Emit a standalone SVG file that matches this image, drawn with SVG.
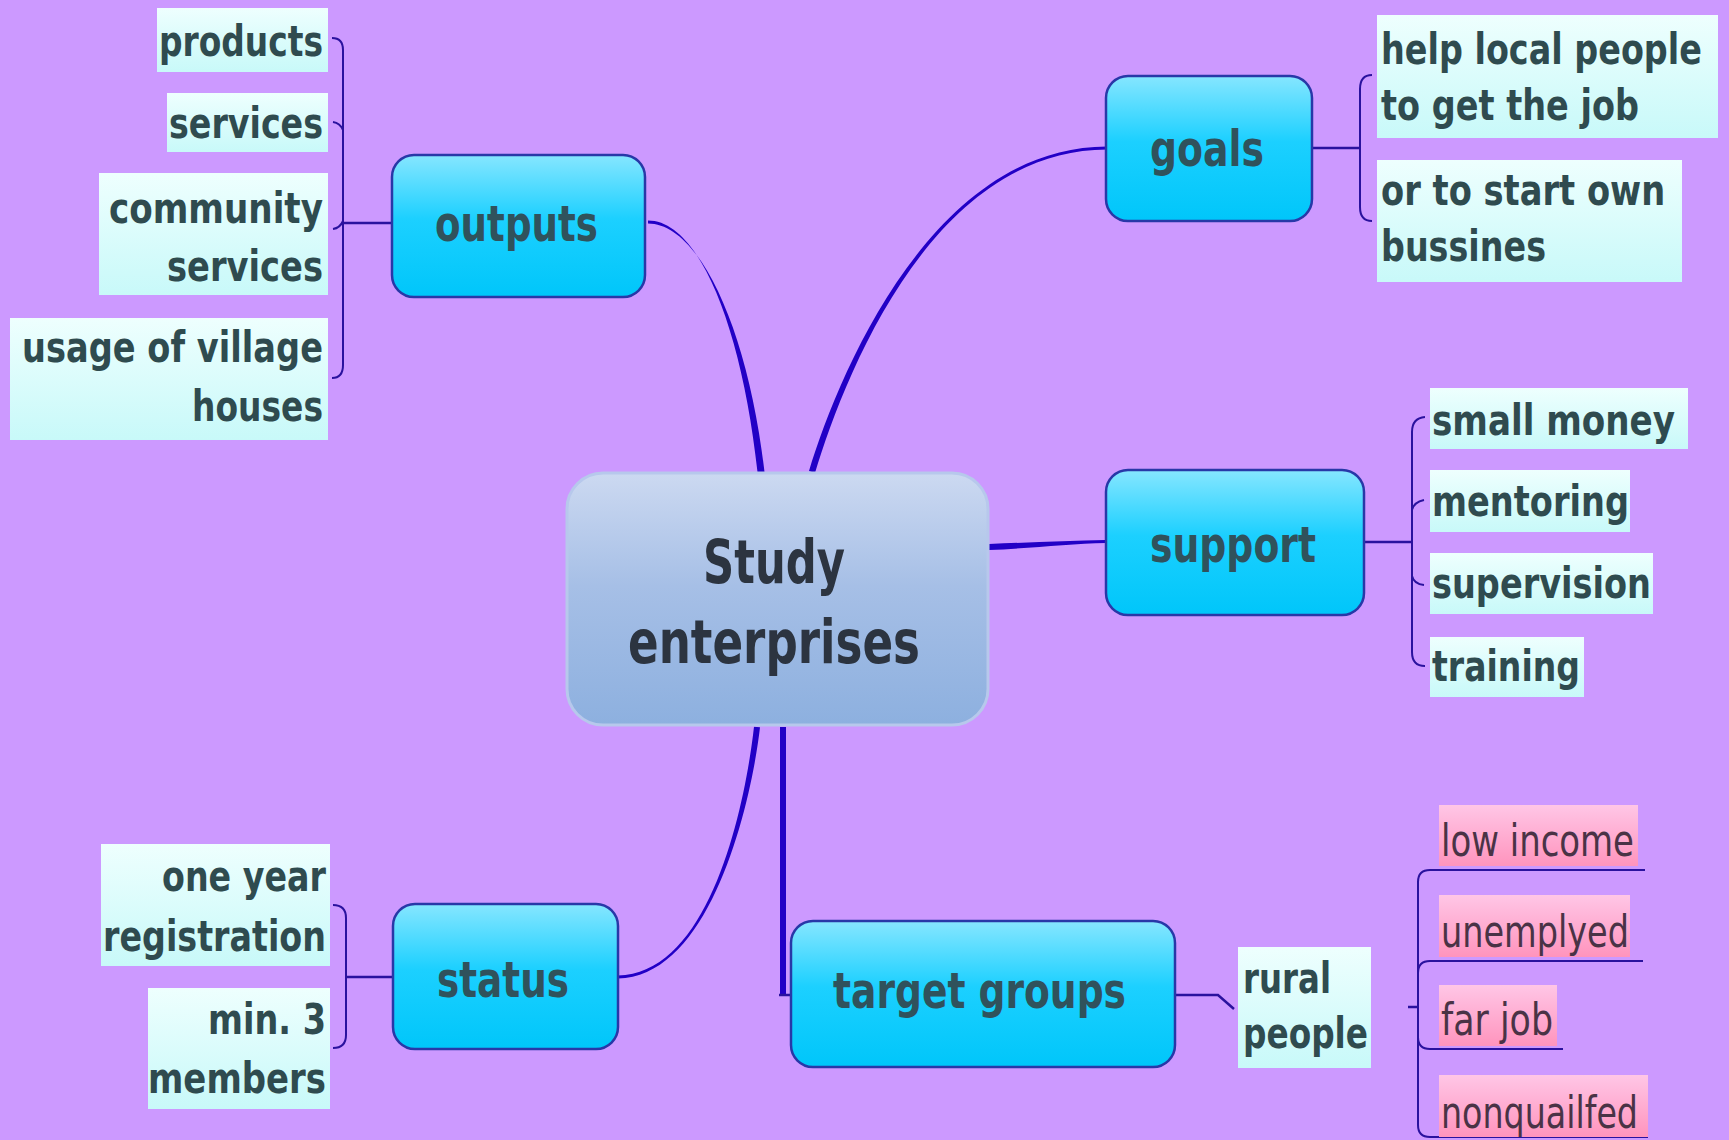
<svg xmlns="http://www.w3.org/2000/svg" width="1729" height="1140" viewBox="0 0 1729 1140">
<defs>
<linearGradient id="gCenter" x1="0" y1="0" x2="0" y2="1">
<stop offset="0" stop-color="#ccd9f1"/><stop offset="0.45" stop-color="#a6bfe6"/><stop offset="1" stop-color="#8db0df"/>
</linearGradient>
<linearGradient id="gNode" x1="0" y1="0" x2="0" y2="1">
<stop offset="0" stop-color="#86e6ff"/><stop offset="0.45" stop-color="#1cd0ff"/><stop offset="1" stop-color="#00c6fa"/>
</linearGradient>
<linearGradient id="gItem" x1="0" y1="0" x2="0" y2="1">
<stop offset="0" stop-color="#eefffe"/><stop offset="1" stop-color="#c8f9f9"/>
</linearGradient>
<linearGradient id="gPink" x1="0" y1="0" x2="0" y2="1">
<stop offset="0" stop-color="#ffc6e6"/><stop offset="1" stop-color="#ff94bd"/>
</linearGradient>
</defs>
<style>
.center{fill:url(#gCenter);stroke:#b7c8ec;stroke-width:3}
.node{fill:url(#gNode);stroke:#2838a8;stroke-width:2.5}
.item{fill:url(#gItem)}
.pink{fill:url(#gPink)}
.ct{font-family:"DejaVu Sans","Verdana",sans-serif;font-weight:bold;font-size:60px;fill:#2c3440}
.nt{font-family:"DejaVu Sans","Verdana",sans-serif;font-weight:bold;font-size:50px;fill:#30525c}
.it{font-family:"DejaVu Sans","Verdana",sans-serif;font-weight:bold;font-size:43px;fill:#2f4b4f}
.pt{font-family:"DejaVu Sans","Verdana",sans-serif;font-size:44px;fill:#4a3346}
.main{fill:#2200c6}
.thin{fill:none;stroke:#2a129e;stroke-width:2}
.hub{fill:none;stroke:#2a129e;stroke-width:2.5}
.thick{fill:none;stroke:#2200c6;stroke-width:6}
</style>
<rect width="1729" height="1140" fill="#cc99ff"/>

<g id="connectors">
<path class="main" d="M648,223.5 C700,223.5 748,330 764.5,472 L757.5,472 C742,330 700,220.5 648,220.5 Z"/>
<path class="main" d="M815,473 C843,381 930,150 1107,149.5 L1107,146.5 C930,147 837,379 809,471 Z"/>
<path class="main" d="M989,550 C1030,548.5 1070,543.5 1106,543 L1106,540 C1070,540.5 1030,542.5 989,544 Z"/>
<path class="main" d="M760,727.3 C753,790.3 715,976.5 618,978.5 L618,975.5 C715,973.5 747,789.7 754,726.7 Z"/>
<path class="thick" d="M783,727 L783,995"/>
<path class="hub" d="M779,995 L792,995"/>
<path class="hub" d="M343,223 L392,223"/>
<path class="thin" d="M332,38 Q343,38 343,50 L343,365 Q343,378 332,378 M343,130 Q340,123 333,122 M343,221 Q340,228 333,229"/>
<path class="hub" d="M1312,148 L1360,148"/>
<path class="thin" d="M1372,75 Q1360,75 1360,89 L1360,207 Q1360,221 1372,221"/>
<path class="hub" d="M1364,542 L1412,542"/>
<path class="thin" d="M1425,417 Q1412,418 1412,432 L1412,652 Q1412,666 1425,666 M1412,510 Q1414,502 1424,500 M1412,576 Q1414,584 1424,585"/>
<path class="hub" d="M346,977 L393,977"/>
<path class="thin" d="M333,905 Q346,905 346,918 L346,1035 Q346,1048 333,1048"/>
<path class="hub" d="M1175,995 L1218,995 L1234,1009"/>
<path class="thin" d="M1430,870 L1645,870 M1430,870 Q1418,870 1418,882 L1418,1125 Q1418,1137 1430,1137 L1648,1137 M1418,973 Q1418,961 1430,961 L1643,961 M1418,1037 Q1418,1049 1430,1049 L1563,1049"/>
<path class="hub" d="M1408,1007 L1418,1007" stroke-width="3.5"/>
</g>

<g id="center">
<rect class="center" x="567" y="473" width="421" height="252" rx="36"/>
<text class="ct" x="703" y="583" textLength="142" lengthAdjust="spacingAndGlyphs">Study</text>
<text class="ct" x="628" y="663" textLength="292" lengthAdjust="spacingAndGlyphs">enterprises</text>
</g>

<g id="outputs">
<rect class="node" x="392" y="155" width="253" height="142" rx="22"/>
<text class="nt" x="435" y="241" textLength="163" lengthAdjust="spacingAndGlyphs">outputs</text>
</g>
<g id="outputs-products">
<rect class="item" x="157" y="8" width="171" height="64"/>
<text class="it" x="159" y="56" textLength="164" lengthAdjust="spacingAndGlyphs">products</text>
</g>
<g id="outputs-services">
<rect class="item" x="167" y="93" width="161" height="59"/>
<text class="it" x="169" y="138" textLength="154" lengthAdjust="spacingAndGlyphs">services</text>
</g>
<g id="outputs-community">
<rect class="item" x="99" y="173" width="229" height="122"/>
<text class="it" x="109" y="223" textLength="214" lengthAdjust="spacingAndGlyphs">community</text>
<text class="it" x="167" y="281" textLength="156" lengthAdjust="spacingAndGlyphs">services</text>
</g>
<g id="outputs-usage">
<rect class="item" x="10" y="318" width="318" height="122"/>
<text class="it" x="22" y="362" textLength="301" lengthAdjust="spacingAndGlyphs">usage of village</text>
<text class="it" x="192" y="421" textLength="131" lengthAdjust="spacingAndGlyphs">houses</text>
</g>

<g id="goals">
<rect class="node" x="1106" y="76" width="206" height="145" rx="22"/>
<text class="nt" x="1150" y="166" textLength="114" lengthAdjust="spacingAndGlyphs">goals</text>
</g>
<g id="goals-help">
<rect class="item" x="1377" y="15" width="341" height="123"/>
<text class="it" transform="translate(1381,64) scale(0.777,1)" textLength="413" lengthAdjust="spacingAndGlyphs">help local people</text>
<text class="it" x="1381" y="120" textLength="258" lengthAdjust="spacingAndGlyphs">to get the job</text>
</g>
<g id="goals-start">
<rect class="item" x="1377" y="160" width="305" height="122"/>
<text class="it" transform="translate(1381,205) scale(0.783,1)" textLength="363" lengthAdjust="spacingAndGlyphs">or to start own</text>
<text class="it" x="1381" y="261" textLength="165" lengthAdjust="spacingAndGlyphs">bussines</text>
</g>

<g id="support">
<rect class="node" x="1106" y="470" width="258" height="145" rx="22"/>
<text class="nt" x="1150" y="562" textLength="166" lengthAdjust="spacingAndGlyphs">support</text>
</g>
<g id="support-money">
<rect class="item" x="1430" y="388" width="258" height="61"/>
<text class="it" transform="translate(1432,435) scale(0.794,1)" textLength="306" lengthAdjust="spacingAndGlyphs">small money</text>
</g>
<g id="support-mentoring">
<rect class="item" x="1430" y="470" width="200" height="62"/>
<text class="it" x="1432" y="516" textLength="197" lengthAdjust="spacingAndGlyphs">mentoring</text>
</g>
<g id="support-supervision">
<rect class="item" x="1430" y="553" width="223" height="61"/>
<text class="it" x="1432" y="598" textLength="219" lengthAdjust="spacingAndGlyphs">supervision</text>
</g>
<g id="support-training">
<rect class="item" x="1430" y="637" width="154" height="60"/>
<text class="it" x="1432" y="681" textLength="148" lengthAdjust="spacingAndGlyphs">training</text>
</g>

<g id="status">
<rect class="node" x="393" y="904" width="225" height="145" rx="22"/>
<text class="nt" x="437" y="997" textLength="132" lengthAdjust="spacingAndGlyphs">status</text>
</g>
<g id="status-registration">
<rect class="item" x="101" y="844" width="229" height="122"/>
<text class="it" x="162" y="891" textLength="164" lengthAdjust="spacingAndGlyphs">one year</text>
<text class="it" x="103" y="951" textLength="223" lengthAdjust="spacingAndGlyphs">registration</text>
</g>
<g id="status-members">
<rect class="item" x="148" y="988" width="182" height="121"/>
<text class="it" x="208" y="1034" textLength="118" lengthAdjust="spacingAndGlyphs">min. 3</text>
<text class="it" x="148" y="1093" textLength="178" lengthAdjust="spacingAndGlyphs">members</text>
</g>

<g id="target-groups">
<rect class="node" x="791" y="921" width="384" height="146" rx="22"/>
<text class="nt" x="833" y="1008" textLength="293" lengthAdjust="spacingAndGlyphs">target groups</text>
</g>
<g id="rural-people">
<rect class="item" x="1238" y="947" width="133" height="121"/>
<text class="it" x="1243" y="993" textLength="88" lengthAdjust="spacingAndGlyphs">rural</text>
<text class="it" x="1243" y="1048" textLength="125" lengthAdjust="spacingAndGlyphs">people</text>
</g>
<g id="low-income">
<rect class="pink" x="1439" y="805" width="199" height="61"/>
<text class="pt" x="1441" y="856" textLength="193" lengthAdjust="spacingAndGlyphs">low income</text>
</g>
<g id="unemplyed">
<rect class="pink" x="1439" y="895" width="191" height="62"/>
<text class="pt" x="1441" y="947" textLength="188" lengthAdjust="spacingAndGlyphs">unemplyed</text>
</g>
<g id="far-job">
<rect class="pink" x="1439" y="985" width="118" height="61"/>
<text class="pt" x="1441" y="1035" textLength="112" lengthAdjust="spacingAndGlyphs">far job</text>
</g>
<g id="nonquailfed">
<rect class="pink" x="1439" y="1075" width="209" height="62"/>
<text class="pt" x="1441" y="1128" textLength="197" lengthAdjust="spacingAndGlyphs">nonquailfed</text>
</g>
</svg>
